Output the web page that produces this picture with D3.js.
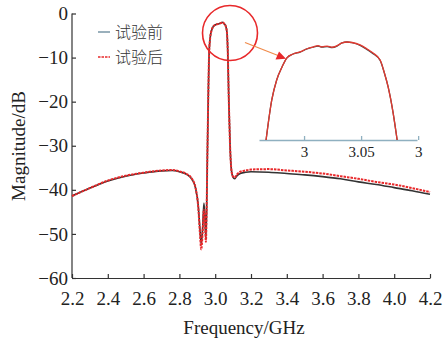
<!DOCTYPE html>
<html><head><meta charset="utf-8">
<script src="https://cdn.jsdelivr.net/npm/d3@7"></script>
<style>
html,body{margin:0;padding:0;background:#fff;}
svg{display:block;}
</style></head><body>
<script>
// ---- data ----
const freq = [2.20,2.30,2.40,2.50,2.60,2.70,2.76,2.80,2.84,2.87,2.89,2.905,2.915,2.922,2.93,2.937,2.943,2.948,2.952,2.956,2.961,2.966,2.972,2.98,2.99,3.00,3.015,3.03,3.04,3.05,3.06,3.066,3.07,3.076,3.084,3.092,3.10,3.108,3.12,3.14,3.17,3.20,3.30,3.40,3.50,3.60,3.70,3.80,3.90,4.00,4.10,4.20];
const before = [-41.4,-39.6,-38.0,-36.9,-36.2,-35.7,-35.6,-35.9,-36.5,-37.6,-39.6,-43.5,-49.0,-52.3,-48.5,-43.0,-46.5,-51.0,-45.0,-33.0,-19.6,-9.0,-5.5,-3.8,-2.9,-2.6,-2.4,-2.2,-2.0,-2.3,-3.0,-4.5,-8.3,-19.6,-31.0,-36.0,-37.2,-37.5,-36.9,-36.3,-36.0,-35.9,-36.0,-36.3,-36.6,-37.0,-37.5,-38.2,-38.8,-39.5,-40.2,-41.0];
const after  = [-41.4,-39.6,-37.9,-36.8,-36.1,-35.6,-35.5,-35.8,-36.4,-37.5,-39.5,-43.8,-50.0,-53.5,-49.5,-44.5,-47.5,-51.8,-45.0,-33.0,-19.6,-9.0,-5.5,-3.8,-2.9,-2.6,-2.4,-2.2,-2.0,-2.3,-3.0,-4.5,-8.3,-19.6,-31.0,-36.0,-37.0,-37.2,-36.6,-35.9,-35.6,-35.4,-35.3,-35.6,-35.9,-36.3,-36.9,-37.5,-38.2,-38.8,-39.6,-40.5];
const xTicks = [2.2,2.4,2.6,2.8,3.0,3.2,3.4,3.6,3.8,4.0,4.2];
const yTicks = [0,-10,-20,-30,-40,-50,-60];
const legendLabels = ["试验前","试验后"];
// inset (zoom of passband top)
const insetFreq   = [2.9667,2.9717,2.9760,2.9807,2.9848,2.9904,2.9965,3.0026,3.0079,3.0123,3.0158,3.0202,3.0246,3.0289,3.0333,3.0377,3.0421,3.0491,3.0553,3.0605,3.0667,3.0702,3.0737,3.0781,3.0816];
const insetBefore = [-10,-6.73,-5.10,-4.04,-3.31,-2.98,-2.82,-2.57,-2.41,-2.33,-2.41,-2.37,-2.45,-2.33,-2.08,-2.00,-2.06,-2.28,-2.62,-2.95,-3.50,-4.47,-5.67,-7.80,-10];
const insetAfter  = [-10,-6.73,-5.10,-4.04,-3.31,-2.98,-2.80,-2.55,-2.41,-2.30,-2.40,-2.33,-2.43,-2.30,-2.08,-2.00,-2.04,-2.24,-2.57,-2.90,-3.47,-4.45,-5.67,-7.80,-10];
const insetTicks = [3.0,3.05,3.1];
const insetTickLabels = ["3","3.05","3"];

// ---- layout ----
const W = 444, H = 339;
const SERIF = "'Liberation Serif','Times New Roman',serif";
const svg = d3.select("body").append("svg").attr("width",W).attr("height",H);
const x = d3.scaleLinear().domain([2.2,4.2]).range([72,430]);
const y = d3.scaleLinear().domain([-60,0]).range([278,13.5]);
const axisColor = "#333";

// axes
const gx = svg.append("g").attr("transform","translate(0,278)")
  .call(d3.axisBottom(x).tickValues(xTicks).tickFormat(d3.format(".1f")).tickSizeInner(-4).tickSizeOuter(0).tickPadding(14));
const gy = svg.append("g").attr("transform","translate(72,0)")
  .call(d3.axisLeft(y).tickValues(yTicks).tickFormat(d=> d<0 ? "\u2212"+Math.abs(d) : d).tickSizeInner(-4).tickSizeOuter(0).tickPadding(4));
[gx,gy].forEach(g=>{
  g.attr("font-family",null).attr("font-size",null);
  g.selectAll("path,line").attr("stroke",axisColor).attr("stroke-width",1.2);
  g.selectAll("text").style("font-family",SERIF).style("font-size","19px").attr("fill","#222");
});
gy.select(".domain").attr("d","M0,278V13.5");

svg.append("text").attr("x",244).attr("y",334).attr("text-anchor","middle")
  .style("font-family",SERIF).style("font-size","19px").attr("fill","#222").text("Frequency/GHz");
svg.append("text").attr("transform","translate(25,146) rotate(-90)").attr("text-anchor","middle")
  .style("font-family",SERIF).style("font-size","19px").attr("fill","#222").text("Magnitude/dB");

// main lines
const line = d3.line().x((d,i)=>x(freq[i])).y(d=>y(d)).curve(d3.curveMonotoneX);
svg.append("path").attr("d",line(before)).attr("fill","none").attr("stroke","#333").attr("stroke-width",1.6);
svg.append("path").attr("d",line(after)).attr("fill","none").attr("stroke","#e8282a").attr("stroke-width",2).attr("stroke-dasharray","2.5,1");

// inset
const ix = d3.scaleLinear().domain([2.9605,3.099]).range([259,417]);
const iy = d3.scaleLinear().domain([-10,-2]).range([140,42]);
const gi = svg.append("g").attr("transform","translate(0,140)")
  .call(d3.axisBottom(ix).tickValues(insetTicks).tickFormat((d,i)=>insetTickLabels[i]).tickSizeInner(-4).tickSizeOuter(0).tickPadding(6));
gi.attr("font-family",null).attr("font-size",null);
gi.selectAll("path,line").attr("stroke","#8fb0c0").attr("stroke-width",1.3);
gi.selectAll("text").style("font-family",SERIF).style("font-size","15px").attr("fill","#222");
const iline = d3.line().x((d,i)=>ix(insetFreq[i])).y(d=>iy(d)).curve(d3.curveMonotoneX);
svg.append("path").attr("d",iline(insetBefore)).attr("fill","none").attr("stroke","#444").attr("stroke-width",1.3);
svg.append("path").attr("d",iline(insetAfter)).attr("fill","none").attr("stroke","#e23a30").attr("stroke-width",1.3);

// circle + arrow
svg.append("circle").attr("cx",230).attr("cy",33).attr("r",27.5).attr("fill","none").attr("stroke","#e8282a").attr("stroke-width",1.6);
svg.append("line").attr("x1",245).attr("y1",42.5).attr("x2",278).attr("y2",55.5).attr("stroke","#f08a4a").attr("stroke-width",1.2);
svg.append("path").attr("d","M286,58.7 L275.5,59.5 L279,51.5 Z").attr("fill","#e8282a");

// legend
const lg = svg.append("g");
const legendColors = ["#7896a6","#e8282a"];
legendLabels.forEach((t,i)=>{
  const yy = 32 + i*25;
  lg.append("line").attr("x1",98).attr("x2",110).attr("y1",yy).attr("y2",yy)
    .attr("stroke",legendColors[i]).attr("stroke-width",1.5).attr("stroke-dasharray", i? "2.5,1" : null);
  lg.append("text").attr("x",115).attr("y",yy+6).style("font-size","16px")
    .style("font-family","'Noto Sans CJK SC',sans-serif").style("font-weight","300").attr("fill","#333").text(t);
});
</script>
</body></html>
